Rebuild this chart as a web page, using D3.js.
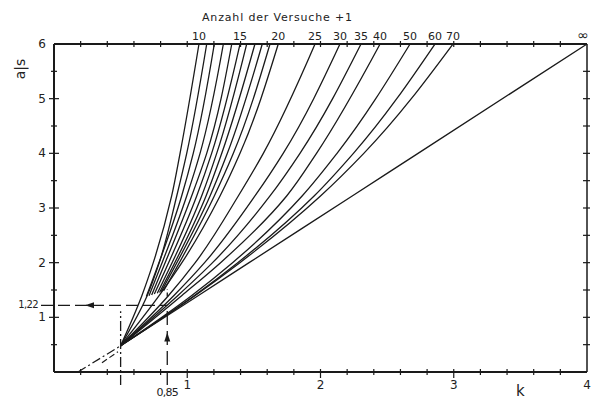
<!DOCTYPE html>
<html>
<head>
<meta charset="utf-8">
<script src="https://cdn.jsdelivr.net/npm/d3@7"></script>
<style>
  body { margin: 0; background: #fff; }
  svg { display: block; }
  text { font-family: "DejaVu Sans", sans-serif; fill: #222; }
</style>
</head>
<body>
<svg id="chart"></svg>
<script>
var aLevels = [0.48, 1.4, 2, 3.22, 4, 6];

// number of trials + 1, one entry per curve
var curveN = [10, 11, 12, 13, 14, 15, 16, 17, 18, 19, 20, 25, 30, 35, 40, 50, 60, 70, Infinity];

// k values of each curve at aLevels (null = curve not drawn there)
var kByCurve = [
  [0.5, 0.66, 0.745, 0.883, 0.946, 1.088],
  [0.5, 0.70, 0.79, 0.921, 0.996, 1.146],
  [null, null, null, 0.958, 1.045, 1.203],
  [null, null, null, 0.996, 1.096, 1.271],
  [null, null, null, 1.033, 1.146, 1.334],
  [null, null, null, 1.071, 1.183, 1.396],
  [null, null, null, 1.108, 1.221, 1.446],
  [null, null, null, 1.141, 1.259, 1.508],
  [null, null, null, 1.171, 1.301, 1.563],
  [null, null, null, 1.203, 1.346, 1.621],
  [0.5, 0.79, 0.96, 1.246, 1.396, 1.683],
  [0.5, 0.86, 1.06, 1.383, 1.571, 1.959],
  [0.5, 0.90, 1.13, 1.508, 1.72, 2.146],
  [0.5, 0.93, 1.19, 1.621, 1.846, 2.304],
  [0.5, 0.96, 1.25, 1.746, 1.97, 2.447],
  [0.5, 1.034, 1.34, 1.862, 2.124, 2.672],
  [0.5, 1.054, 1.379, 1.952, 2.247, 2.859],
  [0.5, 1.06, 1.395, 2.0, 2.325, 2.994],
  [0.5, 1.084, 1.464, 2.238, 2.732, 4.0]
];

// lower ends of the short curves 12..19
var stubN = [12, 13, 14, 15, 16, 17, 18, 19];
var stubEndA = [1.38, 1.395, 1.41, 1.425, 1.44, 1.455, 1.47, 1.485];
var stubEndK = [0.693, 0.713, 0.733, 0.753, 0.775, 0.792, 0.805, 0.823];

// curves that get a number on top
var labelledN = [10, 15, 20, 25, 30, 35, 40, 50, 60, 70, Infinity];

// dash-dot extensions below the meeting point [k, a/s]
var extension1 = [[0.18, 0], [0.5, 0.48]];
var extension2 = [[0.36, 0.17], [0.48, 0.37]];

// worked example
var exampleK = 0.85, exampleA = 1.22, helperK = 0.5;

var yTickLabels = [1, 2, 3, 4, 5, 6];
var xTickLabels = [1, 2, 3, 4];

var width = 593, height = 399;
var svg = d3.select('#chart').attr('width', width).attr('height', height);

var x = d3.scaleLinear().domain([0, 4]).range([54, 587]);
var y = d3.scaleLinear().domain([0, 6]).range([372, 44]);

var ink = '#1a1a1a';

// build the curves
var curves = curveN.map(function(n, i) {
  var pts = [];
  var s = stubN.indexOf(n);
  if (s >= 0) pts.push([stubEndK[s], stubEndA[s]]);
  kByCurve[i].forEach(function(k, j) {
    if (k !== null) pts.push([k, aLevels[j]]);
  });
  return { n: n, pts: pts };
});

var line = d3.line()
  .x(function(d) { return x(d[0]); })
  .y(function(d) { return y(d[1]); })
  .curve(d3.curveMonotoneY);

svg.append('g').selectAll('path')
  .data(curves)
  .enter()
  .append('path')
  .attr('d', function(d) { return line(d.pts); })
  .attr('fill', 'none')
  .attr('stroke', ink)
  .attr('stroke-width', 1.3);

var straight = d3.line()
  .x(function(d) { return x(d[0]); })
  .y(function(d) { return y(d[1]); });

svg.append('path').attr('d', straight(extension1))
  .attr('fill', 'none').attr('stroke', ink).attr('stroke-width', 1.2)
  .attr('stroke-dasharray', '9,3,2,3');
svg.append('path').attr('d', straight(extension2))
  .attr('fill', 'none').attr('stroke', ink).attr('stroke-width', 1.2)
  .attr('stroke-dasharray', '6,3');

// frame: bottom, top, left, right
var frame = svg.append('g').attr('stroke', ink).attr('stroke-width', 2);
frame.append('line').attr('x1', x(0)).attr('x2', x(4)).attr('y1', y(0)).attr('y2', y(0));
frame.append('line').attr('x1', x(0)).attr('x2', x(4)).attr('y1', y(6)).attr('y2', y(6));
frame.append('line').attr('x1', x(0)).attr('x2', x(0)).attr('y1', y(0)).attr('y2', y(6));
frame.append('line').attr('x1', x(4)).attr('x2', x(4)).attr('y1', y(0)).attr('y2', y(6)).attr('stroke-width', 1.5);

// ticks
var kMinor = d3.range(0.2, 4, 0.2);
var aMinor = d3.range(0.5, 6, 0.5);
var ticks = svg.append('g').attr('stroke', ink).attr('stroke-width', 1.2);
[y(0), y(6)].forEach(function(yy) {
  ticks.selectAll(null).data(kMinor).enter().append('line')
    .attr('x1', function(d) { return x(d); }).attr('x2', function(d) { return x(d); })
    .attr('y1', yy - 3).attr('y2', function(d) {
      return yy + (yy === y(0) && Math.abs(d - Math.round(d)) < 0.01 ? 6 : 3);
    });
});
ticks.selectAll(null).data(aMinor).enter().append('line')
  .attr('x1', function(d) { return x(0) - (d % 1 === 0 ? 5 : 3); })
  .attr('x2', function(d) { return x(0) + (d % 1 === 0 ? 5 : 3); })
  .attr('y1', function(d) { return y(d); }).attr('y2', function(d) { return y(d); });
ticks.selectAll(null).data(aMinor).enter().append('line')
  .attr('x1', x(4) - 4).attr('x2', x(4) + 3)
  .attr('y1', function(d) { return y(d); }).attr('y2', function(d) { return y(d); });

// tick labels
svg.append('g').selectAll('text').data(yTickLabels).enter().append('text')
  .attr('x', x(0) - 8).attr('y', function(d) { return y(d) + 4; })
  .attr('text-anchor', 'end').attr('font-size', 12)
  .text(function(d) { return d; });
svg.append('g').selectAll('text').data(xTickLabels).enter().append('text')
  .attr('x', function(d) { return x(d); }).attr('y', y(0) + 17)
  .attr('text-anchor', 'middle').attr('font-size', 12)
  .text(function(d) { return d; });

// curve numbers along the top
svg.append('g').selectAll('text').data(labelledN).enter().append('text')
  .attr('x', function(n) {
    var row = kByCurve[curveN.indexOf(n)];
    return x(row[row.length - 1]) - (n === Infinity ? 4 : 0);
  })
  .attr('y', y(6) - 4)
  .attr('text-anchor', 'middle').attr('font-size', function(n) { return n === Infinity ? 14 : 11; })
  .text(function(n) { return n === Infinity ? '∞' : n; });

svg.append('text').attr('x', 202).attr('y', 21).attr('font-size', 11)
  .attr('textLength', 150).text('Anzahl der Versuche +1');

svg.append('text').attr('transform', 'translate(25,69) rotate(-90)')
  .attr('text-anchor', 'middle').attr('font-size', 14).text('a|s');

svg.append('text').attr('x', x(3.5)).attr('y', 396)
  .attr('text-anchor', 'middle').attr('font-size', 15).text('k');

// worked example: read k = 0.85 up to the curve, across to a/s = 1.22
var ex = svg.append('g').attr('stroke', ink).attr('stroke-width', 1.3).attr('fill', 'none');
ex.append('line').attr('x1', 41).attr('x2', x(exampleK))
  .attr('y1', y(exampleA)).attr('y2', y(exampleA)).attr('stroke-dasharray', '12,5');
ex.append('line').attr('x1', x(exampleK)).attr('x2', x(exampleK))
  .attr('y1', y(0) + 13).attr('y2', y(exampleA)).attr('stroke-dasharray', '14,6');
ex.append('line').attr('x1', x(exampleK)).attr('x2', x(exampleK))
  .attr('y1', y(1.38)).attr('y2', y(1.52)).attr('stroke-dasharray', '4,3');
ex.append('line').attr('x1', x(helperK)).attr('x2', x(helperK))
  .attr('y1', y(0) + 13).attr('y2', y(exampleA) + 6).attr('stroke-dasharray', '10,3,2,3');

// arrow heads
var arrows = svg.append('g').attr('fill', ink);
var ax = x(0.27), ay = y(exampleA);
arrows.append('path').attr('d', 'M' + (ax - 5) + ',' + ay + 'L' + (ax + 4) + ',' + (ay - 3) + 'L' + (ax + 4) + ',' + (ay + 3) + 'Z');
var bx = x(exampleK), by = y(0.63);
arrows.append('path').attr('d', 'M' + bx + ',' + (by - 5) + 'L' + (bx - 3) + ',' + (by + 4) + 'L' + (bx + 3) + ',' + (by + 4) + 'Z');

svg.append('text').attr('x', 38).attr('y', y(exampleA) + 3)
  .attr('text-anchor', 'end').attr('font-size', 10).attr('letter-spacing', -0.6).text('1,22');
svg.append('text').attr('x', x(exampleK)).attr('y', 396)
  .attr('text-anchor', 'middle').attr('font-size', 11).attr('letter-spacing', -0.8).text('0,85');
</script>
</body>
</html>
